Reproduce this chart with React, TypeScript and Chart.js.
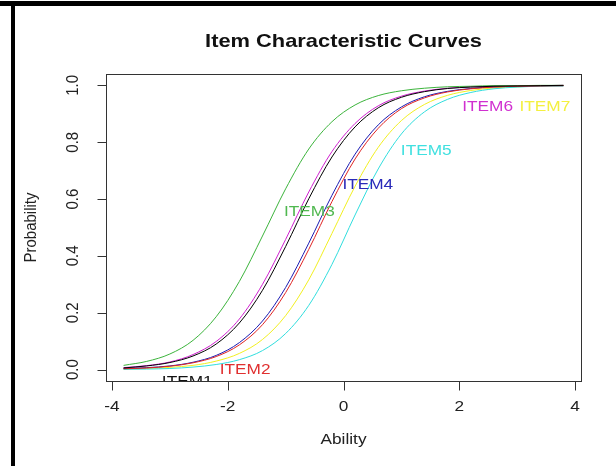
import React, { useEffect, useRef } from "react";
import { Chart, registerables } from "chart.js";
Chart.register(...registerables);

const abilityGrid = [-3.8, -3.4, -3.0, -2.6, -2.2, -1.8, -1.4, -1.0, -0.6, -0.2, 0.2, 0.6, 1.0, 1.4, 1.8, 2.2, 2.6, 3.0, 3.4, 3.8];

const item1 = [0.006, 0.013, 0.025, 0.048, 0.090, 0.164, 0.279, 0.433, 0.601, 0.748, 0.854, 0.921, 0.958, 0.978, 0.989, 0.994, 0.997, 0.998, 0.999, 1.0];
const item2 = [0.003, 0.006, 0.012, 0.024, 0.046, 0.087, 0.158, 0.271, 0.423, 0.591, 0.741, 0.849, 0.918, 0.956, 0.977, 0.988, 0.994, 0.997, 0.998, 0.999];
const item3 = [0.015, 0.029, 0.055, 0.103, 0.186, 0.310, 0.470, 0.636, 0.776, 0.872, 0.931, 0.964, 0.981, 0.990, 0.995, 0.997, 0.999, 0.999, 1.0, 1.0];
const item4 = [0.004, 0.007, 0.013, 0.026, 0.050, 0.095, 0.171, 0.289, 0.445, 0.613, 0.758, 0.861, 0.924, 0.960, 0.979, 0.989, 0.995, 0.997, 0.999, 0.999];
const item5 = [0.001, 0.002, 0.004, 0.009, 0.018, 0.035, 0.067, 0.127, 0.226, 0.370, 0.544, 0.706, 0.829, 0.907, 0.951, 0.975, 0.988, 0.994, 0.997, 0.998];
const item6 = [0.007, 0.014, 0.027, 0.053, 0.099, 0.178, 0.300, 0.458, 0.625, 0.767, 0.866, 0.928, 0.962, 0.980, 0.990, 0.995, 0.997, 0.999, 0.999, 1.0];
const item7 = [0.002, 0.004, 0.008, 0.015, 0.030, 0.057, 0.106, 0.190, 0.316, 0.479, 0.645, 0.782, 0.876, 0.933, 0.965, 0.982, 0.991, 0.995, 0.998, 0.999];

const itemNames = ["ITEM1", "ITEM2", "ITEM3", "ITEM4", "ITEM5", "ITEM6", "ITEM7"];
const itemSeries = [item1, item2, item3, item4, item5, item6, item7];
const itemColors = ["#000000", "#e02424", "#3cb43c", "#1c1cb4", "#30dede", "#d020d0", "#f2f020"];
const labelTextColors = ["#111111", "#e03030", "#50b850", "#2a2ab8", "#40e0e0", "#d030d0", "#f4f040"];

// label anchor positions in data units (ability, probability)
const labelAbility = [-2.70, -1.70, -0.59, 0.42, 1.43, 2.49, 3.48];
const labelProb = [-0.042, 0.0, 0.554, 0.649, 0.768, 0.926, 0.926];

const xTickValues = [-4, -2, 0, 2, 4];
const xTickLabels = ["-4", "-2", "0", "2", "4"];
const yTickValues = [0, 0.2, 0.4, 0.6, 0.8, 1.0];
const yTickLabels = ["0.0", "0.2", "0.4", "0.6", "0.8", "1.0"];

const chartTitle = "Item Characteristic Curves";
const xTitle = "Ability";
const yTitle = "Probability";

const FONT = '"Liberation Sans", Arial, sans-serif';
const SX = 1.15;

function drawText(ctx: CanvasRenderingContext2D, text: string, x: number, y: number, font: string, color: string, rotate = 0) {
  ctx.save();
  ctx.translate(x, y);
  ctx.scale(SX, 1);
  if (rotate) ctx.rotate(rotate);
  ctx.font = font;
  ctx.fillStyle = color;
  ctx.textAlign = "center";
  ctx.textBaseline = "middle";
  ctx.fillText(text, 0, 0);
  ctx.restore();
}

const decorPlugin = {
  id: "rdecor",
  beforeDraw(chart: any) {
    const ctx = chart.ctx as CanvasRenderingContext2D;
    ctx.save();
    ctx.fillStyle = "#ffffff";
    ctx.fillRect(0, 0, chart.width, chart.height);
    ctx.restore();
  },
  afterDraw(chart: any) {
    const ctx = chart.ctx as CanvasRenderingContext2D;
    const area = chart.chartArea;
    const xs = chart.scales.x;
    const ys = chart.scales.y;
    ctx.save();
    // outer black frame pieces
    ctx.fillStyle = "#000000";
    ctx.fillRect(0, 1, chart.width, 5);
    ctx.fillRect(11, 1, 4, chart.height);

    // item labels, clipped to plot region
    ctx.save();
    ctx.beginPath();
    ctx.rect(area.left, area.top, area.right - area.left, area.bottom - area.top);
    ctx.clip();
    itemNames.forEach((name, i) => {
      drawText(ctx, name, xs.getPixelForValue(labelAbility[i]), ys.getPixelForValue(labelProb[i]), `15px ${FONT}`, labelTextColors[i]);
    });
    ctx.restore();

    // box
    ctx.strokeStyle = "#333333";
    ctx.lineWidth = 1;
    ctx.strokeRect(Math.round(area.left) + 0.5, Math.round(area.top) + 0.5, Math.round(area.right - area.left), Math.round(area.bottom - area.top));

    // x ticks
    const bottom = Math.round(area.bottom) + 0.5;
    ctx.beginPath();
    xTickValues.forEach((v) => {
      const px = Math.round(xs.getPixelForValue(v)) + 0.5;
      ctx.moveTo(px, bottom);
      ctx.lineTo(px, bottom + 9);
    });
    // y ticks
    const left = Math.round(area.left) + 0.5;
    yTickValues.forEach((v) => {
      const py = Math.round(ys.getPixelForValue(v)) + 0.5;
      ctx.moveTo(left, py);
      ctx.lineTo(left - 9, py);
    });
    ctx.stroke();

    xTickValues.forEach((v, i) => {
      drawText(ctx, xTickLabels[i], xs.getPixelForValue(v), 407, `15px ${FONT}`, "#222222");
    });
    yTickValues.forEach((v, i) => {
      drawText(ctx, yTickLabels[i], 73, ys.getPixelForValue(v), `15px ${FONT}`, "#222222", -Math.PI / 2);
    });

    drawText(ctx, chartTitle, (area.left + area.right) / 2, 42, `bold 19px ${FONT}`, "#111111");
    drawText(ctx, xTitle, (area.left + area.right) / 2, 440, `15px ${FONT}`, "#222222");
    drawText(ctx, yTitle, 31, (area.top + area.bottom) / 2, `15px ${FONT}`, "#222222", -Math.PI / 2);
    ctx.restore();
  },
};

export default function App() {
  const ref = useRef<HTMLCanvasElement | null>(null);
  useEffect(() => {
    if (!ref.current) return;
    const datasets = itemSeries.map((series, i) => ({
      label: itemNames[i],
      data: abilityGrid.map((a, j) => ({ x: a, y: series[j] })),
      borderColor: itemColors[i],
      backgroundColor: itemColors[i],
      borderWidth: 1,
      pointRadius: 0,
      cubicInterpolationMode: "monotone" as const,
      fill: false,
    }));
    const chart = new Chart(ref.current, {
      type: "line",
      data: { datasets },
      options: {
        animation: false,
        responsive: false,
        devicePixelRatio: 1,
        layout: { padding: { left: 106, top: 74, right: 35, bottom: 85 } },
        plugins: { legend: { display: false }, tooltip: { enabled: false }, title: { display: false } },
        scales: {
          x: {
            type: "linear",
            min: -4.104,
            max: 4.104,
            grid: { display: false },
            border: { display: false },
            ticks: { display: false },
            afterFit: (s: any) => { s.height = 0; },
          },
          y: {
            type: "linear",
            min: -0.04,
            max: 1.04,
            grid: { display: false },
            border: { display: false },
            ticks: { display: false },
            afterFit: (s: any) => { s.width = 0; },
          },
        },
      },
      plugins: [decorPlugin],
    });
    return () => chart.destroy();
  }, []);
  return (
    <div style={{ position: "fixed", left: 0, top: 0, width: 616, height: 466, background: "#fff" }}>
      <canvas ref={ref} width={616} height={466} style={{ display: "block" }} />
    </div>
  );
}
